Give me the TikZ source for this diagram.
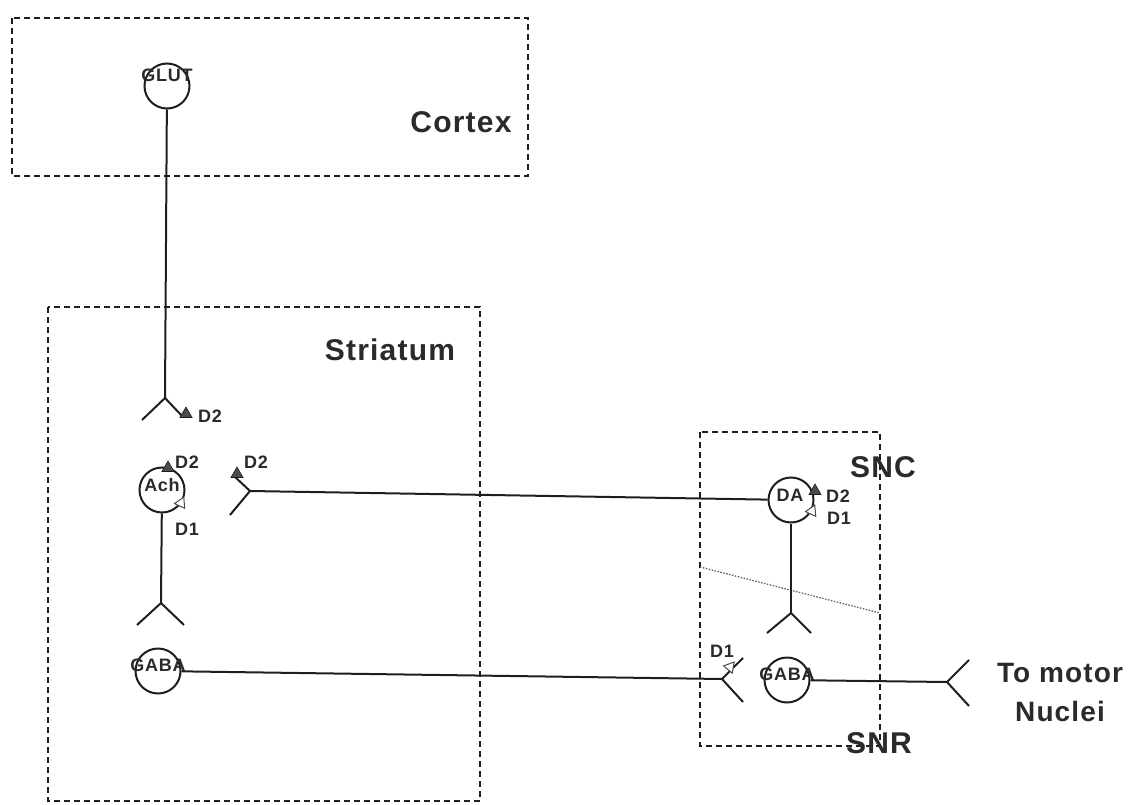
\documentclass[tikz,border=0pt]{standalone}
\usepackage{fontspec}
\setmainfont{Liberation Sans}
\newfontfamily\lab{Liberation Sans}[LetterSpace=4.0]
\usetikzlibrary{shapes.geometric}
\definecolor{ink}{HTML}{1E1E1E}
\definecolor{txt}{HTML}{2A2A2A}
\begin{document}
\begin{tikzpicture}[x=1pt,y=-1pt,
  line/.style={draw=ink,line width=2pt},
  region/.style={draw=ink,line width=1.7pt,dash pattern=on 6pt off 4pt},
  neuron/.style={circle,draw=ink,line width=2pt,minimum size=45pt,inner sep=0pt},
  intext/.style={text=txt,font=\lab\bfseries\fontsize{18}{20}\selectfont,inner sep=0pt},
  dlab/.style={text=txt,font=\lab\bfseries\fontsize{18}{20}\selectfont,inner sep=0pt},
  biglab/.style={text=txt,font=\lab\bfseries\fontsize{30}{38}\selectfont,inner sep=0pt,align=center},
  ftri/.style={regular polygon,regular polygon sides=3,fill=ink!80,draw=ink,line width=0.6pt,minimum size=14pt,inner sep=0pt},
  otri/.style={regular polygon,regular polygon sides=3,draw=ink!80,line width=1pt,fill=white,minimum size=13pt,inner sep=0pt}
]
\useasboundingbox (0,0) rectangle (1137,805);

% regions
\draw[region] (12,18) rectangle (528,176);
\draw[region] (48,307) rectangle (480,801);
\draw[region] (700,432) rectangle (880,746);
\coordinate (bl) at (700,567);
\coordinate (br) at (880,613);
\draw[ink!70,line width=1.3pt,dash pattern=on 1.5pt off 1.5pt] (bl) -- (br);

% region labels
\node[biglab] (cortex) at (461,122) {Cortex};
\node[biglab] (striatum) at (390,350) {Striatum};
\node[biglab] (snc) at (883,467) {SNC};
\node[biglab] (snr) at (879,743) {SNR};
\node[biglab,font=\lab\bfseries\fontsize{28}{39}\selectfont] (motor) at (1060,692) {To motor\\Nuclei};

% GLUT neuron
\node[neuron] (glut) at (167,86) {};
\node[intext] (glutT) at (167,75) {GLUT};
\coordinate (gf) at (165,398);
\coordinate (gl) at (142,420);
\coordinate (gr) at (183,417);
\draw[line] (glut) -- (gf);
\draw[line] (gl) -- (gf) -- (gr);
\node[ftri] (t1) at (186,414) {};
\node[dlab] (d2a) at (210,416) {D2};

% Ach neuron
\node[neuron] (ach) at (162,490) {};
\node[intext] (achT) at (162,485) {Ach};
\node[ftri] (t2) at (168,468) {};
\node[dlab] (d2b) at (187,462) {D2};
\node[otri,rotate=-25] (o1) at (181,503) {};
\node[dlab] (d1a) at (187,529) {D1};
\coordinate (af) at (161,603);
\coordinate (al) at (137,625);
\coordinate (ar) at (184,625);
\draw[line] (ach) -- (af);
\draw[line] (al) -- (af) -- (ar);

% Striatal GABA neuron
\node[neuron] (gaba1) at (158,671) {};
\node[intext] (gaba1T) at (158,665) {GABA};

% DA neuron
\node[neuron] (da) at (791,500) {};
\node[intext] (daT) at (790,495) {DA};
\node[ftri] (t3) at (815,491) {};
\node[dlab] (d2d) at (838,496) {D2};
\node[otri,rotate=-25] (o2) at (812,511) {};
\node[dlab] (d1d) at (839,518) {D1};
\coordinate (dsf) at (791,613);
\coordinate (dsl) at (767,633);
\coordinate (dsr) at (811,633);
\draw[line] (da) -- (dsf);
\draw[line] (dsl) -- (dsf) -- (dsr);

% DA terminal in striatum
\coordinate (df) at (250,491);
\coordinate (dfu) at (234,476);
\coordinate (dfd) at (230,515);
\draw[line] (df) -- (da);
\draw[line] (dfu) -- (df) -- (dfd);
\node[ftri] (t4) at (237,474) {};
\node[dlab] (d2c) at (256,462) {D2};

% GABA terminal in SNR
\coordinate (sf) at (722,679);
\coordinate (su) at (743,658);
\coordinate (sd) at (743,702);
\draw[line] (gaba1) -- (sf);
\draw[line] (su) -- (sf) -- (sd);
\node[otri,rotate=-40] (o3) at (730,667) {};
\node[dlab] (d1c) at (722,651) {D1};

% SNR GABA neuron
\node[neuron] (gaba2) at (787,680) {};
\node[intext] (gaba2T) at (787,674) {GABA};
\coordinate (mf) at (947,682);
\coordinate (mu) at (969,660);
\coordinate (md) at (969,706);
\draw[line] (gaba2) -- (mf);
\draw[line] (mu) -- (mf) -- (md);
\end{tikzpicture}
\end{document}
